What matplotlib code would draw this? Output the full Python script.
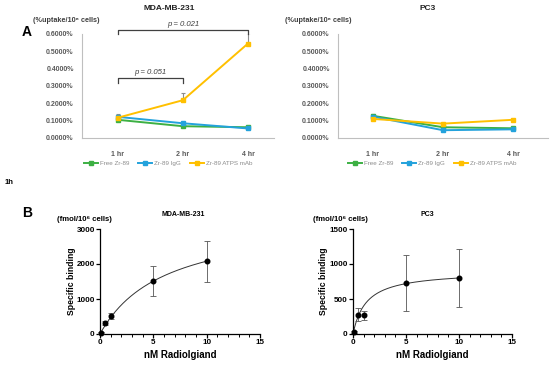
import matplotlib
matplotlib.use('Agg')
import matplotlib.pyplot as plt
from matplotlib.ticker import FuncFormatter, MultipleLocator
import numpy as np

plt.rcParams['font.family'] = ['Liberation Sans', 'DejaVu Sans']

# ---- Data: panel A (uptake, % per 10^6 cells) ----
time_labels = ['1 hr', '2 hr', '4 hr']
series_names = ['Free Zr-89', 'Zr-89 IgG', 'Zr-89 ATPS mAb']

mda_free = [0.105, 0.068, 0.062]
mda_igg = [0.122, 0.085, 0.055]
mda_atps = [0.117, 0.218, 0.545]
mda_free_err = [0.0, 0.0, 0.0]
mda_igg_err = [0.018, 0.008, 0.0]
mda_atps_err = [0.010, 0.042, 0.058]

pc3_free = [0.128, 0.062, 0.056]
pc3_igg = [0.123, 0.045, 0.050]
pc3_atps = [0.110, 0.083, 0.105]
pc3_free_err = [0.008, 0.0, 0.0]
pc3_igg_err = [0.0, 0.0, 0.0]
pc3_atps_err = [0.0, 0.0, 0.006]

# ---- Data: panel B (specific binding, fmol/10^6 cells) ----
conc = [0.1, 0.5, 1.0, 5.0, 10.0]
mda_bind = [25, 320, 510, 1510, 2080]
mda_bind_err = [20, 60, 80, 425, 590]
pc3_bind = [35, 275, 265, 725, 795]
pc3_bind_err = [15, 95, 70, 400, 415]
# one-site fit parameters (Bmax, Kd)
mda_fit = (3340, 6.05)
pc3_fit = (900, 1.25)

C_GREEN = '#3CB043'
C_BLUE = '#23A2DC'
C_YELLOW = '#FFC000'
C_AXIS = '#BFBFBF'
C_TICK = '#595959'

W, H = 550, 367
fig = plt.figure(figsize=(5.5, 3.67), dpi=100)


def fx(px):
    return px / W


def fy(py):
    return 1 - py / H


def uptake_panel(rect, xlim, title, title_x, ylab_x, legend_x, data, errs):
    ax = fig.add_axes(rect)
    x = np.arange(len(time_labels))
    handles = []
    for vals, err, col, name in zip(data, errs, [C_GREEN, C_BLUE, C_YELLOW], series_names):
        ax.errorbar(x, vals, yerr=[np.zeros(len(err)), err], fmt='none',
                    ecolor='#8C8C8C', elinewidth=0.8, capsize=1.5, capthick=0.8)
        ln, = ax.plot(x, vals, color=col, marker='s', markersize=2.5,
                      linewidth=1.4, label=name)
        handles.append(ln)
    ax.set_xlim(*xlim)
    ax.set_ylim(0, 0.6)
    ax.set_yticks(np.arange(0, 0.61, 0.1))
    ax.yaxis.set_major_formatter(FuncFormatter(lambda v, p: f'{v:.4f}%'))
    ax.set_xticks(x)
    ax.set_xticklabels(time_labels)
    for s in ['top', 'right']:
        ax.spines[s].set_visible(False)
    ax.spines['left'].set_color(C_AXIS)
    ax.spines['bottom'].set_color(C_AXIS)
    ax.tick_params(length=0, labelsize=5.0, colors=C_TICK, pad=6)
    ax.tick_params(axis='x', pad=9)
    for t in ax.get_xticklabels() + ax.get_yticklabels():
        t.set_fontweight('bold')
    fig.text(fx(title_x), fy(8), title, ha='center', va='center',
             fontsize=6, fontweight='bold', color='#222222')
    fig.text(fx(ylab_x), fy(21), '(%uptake/10\u2076 cells)', ha='center', va='center',
             fontsize=5.2, fontweight='bold', color='#404040')
    fig.legend(handles, series_names, loc='center',
               bbox_to_anchor=(fx(legend_x), fy(163)), ncol=3, frameon=False,
               fontsize=4.5, labelcolor='#8C8C8C', handlelength=2.3,
               columnspacing=1.4, handletextpad=0.3)
    return ax


axA1 = uptake_panel([fx(82), fy(138), fx(192), 104 / H], (-0.55, 2.4),
                    'MDA-MB-231', 169, 66, 168,
                    [mda_free, mda_igg, mda_atps],
                    [mda_free_err, mda_igg_err, mda_atps_err])
axA2 = uptake_panel([fx(338), fy(138), fx(210), 104 / H], (-0.5, 2.5),
                    'PC3', 428, 318, 432,
                    [pc3_free, pc3_igg, pc3_atps],
                    [pc3_free_err, pc3_igg_err, pc3_atps_err])

# significance brackets
for (i0, i1, yb, label) in [(0, 1, 0.345, 'p = 0.051'), (0, 2, 0.625, 'p = 0.021')]:
    axA1.plot([i0, i0, i1, i1], [yb - 0.025, yb, yb, yb - 0.025], color='#404040',
              linewidth=0.9, clip_on=False)
    axA1.text((i0 + i1) / 2, yb + 0.012, label, ha='center', va='bottom',
              fontsize=5.6, style='italic', color='#404040', clip_on=False)

fig.text(fx(22), fy(32), 'A', fontsize=10, fontweight='bold', ha='left', va='center')
fig.text(fx(5), fy(182), '1h', fontsize=5.5, fontweight='bold', ha='left', va='center')


def binding_panel(rect, ymax, ystep, title, title_x, ylab_x, sb_x, conc, vals, err, fit):
    ax = fig.add_axes(rect)
    bmax, kd = fit
    xs = np.linspace(0, max(conc), 200)
    ax.plot(xs, bmax * xs / (kd + xs), color='#333333', linewidth=0.7)
    ax.errorbar(conc, vals, yerr=err, fmt='o', color='black', markersize=3.3,
                ecolor='#555555', elinewidth=0.6, capsize=2.2, capthick=0.6,
                clip_on=False, zorder=3)
    ax.set_xlim(0, 15)
    ax.set_ylim(0, ymax)
    ax.xaxis.set_major_locator(MultipleLocator(5))
    ax.xaxis.set_minor_locator(MultipleLocator(1))
    ax.yaxis.set_major_locator(MultipleLocator(ystep))
    for s in ['top', 'right']:
        ax.spines[s].set_visible(False)
    for s in ['left', 'bottom']:
        ax.spines[s].set_linewidth(0.9)
    ax.tick_params(which='major', length=3, width=0.9, labelsize=5.8, pad=0.8)
    ax.tick_params(which='minor', length=1.8, width=0.7)
    for t in ax.get_xticklabels() + ax.get_yticklabels():
        t.set_fontweight('bold')
    ax.set_xlabel('nM Radiolgiand', fontsize=7, fontweight='bold', labelpad=3)
    fig.text(fx(sb_x), (rect[1] + rect[3] / 2), 'Specific binding', rotation=90,
             ha='center', va='center', fontsize=6.2, fontweight='bold')
    fig.text(fx(title_x), fy(215), title, ha='center', va='center',
             fontsize=5, fontweight='bold')
    fig.text(fx(ylab_x), fy(219), '(fmol/10\u2076 cells)', ha='center', va='center',
             fontsize=5.6, fontweight='bold')
    return ax


binding_panel([fx(100), fy(334), fx(160), 105 / H], 3000, 1000, 'MDA-MB-231', 183, 84, 72,
              conc, mda_bind, mda_bind_err, mda_fit)
binding_panel([fx(353), fy(334), fx(159), 105 / H], 1500, 500, 'PC3', 427, 340, 323,
              conc, pc3_bind, pc3_bind_err, pc3_fit)

fig.text(fx(22), fy(213), 'B', fontsize=10, fontweight='bold', ha='left', va='center')

fig.savefig('out.png', dpi=100, facecolor='white')
